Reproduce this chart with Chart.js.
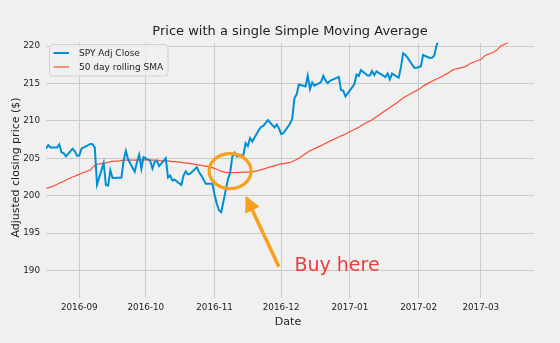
<!DOCTYPE html>
<html><head><meta charset="utf-8">
<script src="https://cdn.jsdelivr.net/npm/chart.js@4.4.1/dist/chart.umd.min.js"></script>
<style>html,body{margin:0;padding:0;background:#f0f0f0;overflow:hidden}</style>
</head><body>
<canvas id="c" width="560" height="343" style="display:block;width:560px;height:343px"></canvas>
<script>
// ---------------- data ----------------
const tradingDates = [
'2016-08-17','2016-08-18','2016-08-19','2016-08-22','2016-08-23','2016-08-24','2016-08-25','2016-08-26','2016-08-29','2016-08-30','2016-08-31',
'2016-09-01','2016-09-02','2016-09-06','2016-09-07','2016-09-08','2016-09-09','2016-09-12','2016-09-13','2016-09-14','2016-09-15','2016-09-16','2016-09-19','2016-09-20','2016-09-21','2016-09-22','2016-09-23','2016-09-26','2016-09-27','2016-09-28','2016-09-29','2016-09-30',
'2016-10-03','2016-10-04','2016-10-05','2016-10-06','2016-10-07','2016-10-10','2016-10-11','2016-10-12','2016-10-13','2016-10-14','2016-10-17','2016-10-18','2016-10-19','2016-10-20','2016-10-21','2016-10-24','2016-10-25','2016-10-26','2016-10-27','2016-10-28','2016-10-31',
'2016-11-01','2016-11-02','2016-11-03','2016-11-04','2016-11-07','2016-11-08','2016-11-09','2016-11-10','2016-11-11','2016-11-14','2016-11-15','2016-11-16','2016-11-17','2016-11-18','2016-11-21','2016-11-22','2016-11-23','2016-11-25','2016-11-28','2016-11-29','2016-11-30',
'2016-12-01','2016-12-02','2016-12-05','2016-12-06','2016-12-07','2016-12-08','2016-12-09','2016-12-12','2016-12-13','2016-12-14','2016-12-15','2016-12-16','2016-12-19','2016-12-20','2016-12-21','2016-12-22','2016-12-23','2016-12-27','2016-12-28','2016-12-29','2016-12-30',
'2017-01-03','2017-01-04','2017-01-05','2017-01-06','2017-01-09','2017-01-10','2017-01-11','2017-01-12','2017-01-13','2017-01-17','2017-01-18','2017-01-19','2017-01-20','2017-01-23','2017-01-24','2017-01-25','2017-01-26','2017-01-27','2017-01-30','2017-01-31',
'2017-02-01','2017-02-02','2017-02-03','2017-02-06','2017-02-07','2017-02-08','2017-02-09','2017-02-10','2017-02-13','2017-02-14','2017-02-15','2017-02-16','2017-02-17','2017-02-21','2017-02-22','2017-02-23','2017-02-24','2017-02-27','2017-02-28',
'2017-03-01','2017-03-02','2017-03-03','2017-03-06','2017-03-07','2017-03-08','2017-03-09','2017-03-10','2017-03-13','2017-03-14','2017-03-15'
];

const spyAdjClose = [
206.30,206.76,206.45,206.45,206.86,205.80,205.66,205.27,206.29,205.94,205.36,
205.37,206.30,206.92,206.90,206.43,201.49,204.38,201.44,201.36,203.40,202.38,202.42,202.43,204.71,206.00,204.87,203.21,204.47,205.48,203.62,205.16,
204.67,203.62,204.53,204.67,203.97,205.03,202.44,202.70,202.04,202.14,201.44,202.70,203.25,202.87,202.96,203.82,203.14,202.73,202.19,201.59,201.60,
200.14,198.94,198.03,197.81,202.17,203.08,205.23,205.75,205.27,205.44,207.04,206.65,207.71,207.25,208.81,209.22,209.33,210.11,209.13,209.53,209.03,
208.26,208.37,209.62,210.28,213.03,213.55,214.85,214.60,216.03,214.25,215.13,214.71,215.18,216.01,215.41,215.04,215.35,215.88,214.10,214.05,213.27,
214.90,216.18,216.01,216.78,216.06,216.06,216.67,216.13,216.63,215.86,216.34,215.54,216.33,215.77,217.15,219.03,218.80,218.46,217.10,217.09,
217.17,217.31,218.81,218.42,218.43,218.72,220.01,220.88,222.97
];

const sma50 = [
201.00,201.05,201.15,201.50,201.70,201.80,201.95,202.10,202.50,202.60,202.75,
202.85,203.00,203.45,203.80,204.05,204.20,204.35,204.40,204.45,204.55,204.60,204.65,204.70,204.75,204.75,204.75,204.75,204.75,204.75,204.80,204.80,
204.80,204.75,204.75,204.75,204.70,204.65,204.65,204.60,204.55,204.55,204.45,204.40,204.40,204.35,204.30,204.15,204.10,204.05,204.00,203.95,203.75,
203.65,203.55,203.40,203.25,203.10,203.10,203.10,203.10,203.10,203.15,203.15,203.15,203.20,203.20,203.40,203.50,203.55,203.75,204.00,204.10,204.20,
204.25,204.30,204.45,204.55,204.70,204.85,205.00,205.60,205.80,206.00,206.15,206.30,206.70,206.85,207.00,207.15,207.30,207.85,208.00,208.10,208.25,
208.85,209.00,209.15,209.35,209.85,210.00,210.15,210.35,210.55,211.40,211.60,211.80,212.00,212.60,212.85,213.05,213.25,213.40,213.90,214.05,
214.20,214.40,214.65,215.15,215.30,215.45,215.60,215.70,216.20,216.35,216.55,216.75,216.90,217.15,217.25,217.40,217.65,218.00,218.10,
218.20,218.45,218.75,219.10,219.20,219.40,219.70,220.00,220.40,220.60,220.80
];

const seriesNames = ['SPY Adj Close', '50 day rolling SMA'];
const monthTickLabels = ['2016-09','2016-10','2016-11','2016-12','2017-01','2017-02','2017-03'];
const yTickValues = [190,195,200,205,210,215,220];
const titleText = 'Price with a single Simple Moving Average';
const xAxisLabel = 'Date';
const yAxisLabel = 'Adjusted closing price ($)';
const noteText = 'Buy here';

// ---------------- helpers ----------------
const xStart = '2016-08-17', xEnd = '2017-03-25';
const dayOf = s => (Date.parse(s) - Date.parse(xStart)) / 864e5;

const blueData = spyAdjClose.map((v, i) => ({x: dayOf(tradingDates[i]), y: v}));
const redData = sma50.map((v, i) => ({x: dayOf(tradingDates[i]), y: v}));

const FONT = "'DejaVu Sans', sans-serif";
const BLUE = '#008fd5', RED = '#fc4f30', ORANGE = '#f7a01c';

// annotation anchors (data coordinates)
const note = {
  circle: {date: '2016-11-08', value: 203.3, rx: 21, ry: 17.5},
  tip: {date: '2016-11-15', value: 200.0},
  tail: {date: '2016-11-30', value: 190.5},
  text: {date: '2016-12-07', value: 189.9}
};

const bgPlugin = {
  id: 'bg',
  beforeDraw(chart) {
    const c = chart.ctx;
    c.save(); c.fillStyle = '#f0f0f0'; c.fillRect(0, 0, chart.width, chart.height); c.restore();
  }
};

const textPlugin = {
  id: 'texts',
  afterDraw(chart) {
    const c = chart.ctx, a = chart.chartArea;
    c.save();
    c.fillStyle = '#222';
    c.textAlign = 'center';
    c.textBaseline = 'alphabetic';
    c.font = '13px ' + FONT;
    c.fillText(titleText, (a.left + a.right) / 2, 35);
    c.font = '11px ' + FONT;
    c.fillText(xAxisLabel, (a.left + a.right) / 2 - 2, 325);
    c.translate(18.5, (a.top + a.bottom) / 2 - 3);
    c.rotate(-Math.PI / 2);
    c.fillText(yAxisLabel, 0, 0);
    c.restore();
  }
};

const legendPlugin = {
  id: 'legendBox',
  afterDatasetsDraw(chart) {
    const c = chart.ctx;
    const x = 49.5, y = 44.5, w = 118.5, h = 31.5, r = 3;
    c.save();
    c.beginPath();
    c.roundRect(x, y, w, h, r);
    c.fillStyle = 'rgba(240,240,240,0.85)';
    c.fill();
    c.strokeStyle = '#d0d0d0';
    c.lineWidth = 1;
    c.stroke();
    chart.data.datasets.forEach((ds, i) => {
      const ry = 53 + i * 14;
      c.beginPath();
      c.moveTo(53.5, ry); c.lineTo(69, ry);
      c.strokeStyle = ds.borderColor;
      c.lineWidth = ds.borderWidth;
      c.stroke();
      c.fillStyle = '#222';
      c.font = '9px ' + FONT;
      c.textAlign = 'left';
      c.textBaseline = 'middle';
      c.fillText(ds.label, 79, ry + 0.5);
    });
    c.restore();
  }
};

const notePlugin = {
  id: 'note',
  afterDatasetsDraw(chart) {
    const c = chart.ctx, xs = chart.scales.x, ys = chart.scales.y;
    const px = p => [xs.getPixelForValue(dayOf(p.date)), ys.getPixelForValue(p.value)];
    c.save();
    // ellipse
    const [cx, cy] = px(note.circle);
    c.beginPath();
    c.ellipse(cx, cy, note.circle.rx, note.circle.ry, 0, 0, Math.PI * 2);
    c.strokeStyle = ORANGE; c.lineWidth = 3.2; c.stroke();
    // arrow
    const [tx, ty] = px(note.tip), [sx, sy] = px(note.tail);
    const dx = tx - sx, dy = ty - sy, L = Math.hypot(dx, dy);
    const ux = dx / L, uy = dy / L, nx = -uy, ny = ux;
    const hl = 16, hw = 8;
    const bx = tx - ux * hl, by = ty - uy * hl;
    c.beginPath();
    c.moveTo(sx, sy); c.lineTo(bx + ux * 2, by + uy * 2);
    c.strokeStyle = ORANGE; c.lineWidth = 3.5; c.lineCap = 'butt'; c.stroke();
    c.beginPath();
    c.moveTo(tx, ty);
    c.lineTo(bx + nx * hw, by + ny * hw);
    c.lineTo(bx - nx * hw, by - ny * hw);
    c.closePath();
    c.fillStyle = ORANGE; c.fill();
    // text
    const [qx, qy] = px(note.text);
    c.fillStyle = '#f03c3c';
    c.font = '19px ' + FONT;
    c.textAlign = 'left'; c.textBaseline = 'alphabetic';
    c.fillText(noteText, qx, qy);
    c.restore();
  }
};

new Chart(document.getElementById('c'), {
  type: 'line',
  data: {
    datasets: [
      {label: seriesNames[0], data: blueData, borderColor: BLUE, borderWidth: 2, pointRadius: 0, tension: 0, clip: 0, fill: false},
      {label: seriesNames[1], data: redData, borderColor: RED, borderWidth: 1.2, pointRadius: 0, tension: 0, clip: 0, fill: false}
    ]
  },
  options: {
    responsive: false,
    animation: false,
    devicePixelRatio: 1,
    layout: {padding: {top: 42.7, right: 26, bottom: 0, left: 0}},
    plugins: {legend: {display: false}, title: {display: false}, tooltip: {enabled: false}},
    scales: {
      x: {
        type: 'linear', min: 0, max: dayOf(xEnd),
        afterBuildTicks: s => { s.ticks = monthTickLabels.map(m => ({value: dayOf(m + '-01')})); },
        afterFit: s => { s.height = 44.7; },
        ticks: {callback: (v, i) => monthTickLabels[i], autoSkip: false, maxRotation: 0, padding: 4, color: '#222', font: {family: FONT, size: 8.8}},
        grid: {color: '#cbcbcb', lineWidth: 1, drawTicks: false},
        border: {display: false}
      },
      y: {
        min: 186.3, max: 220.45,
        afterBuildTicks: s => { s.ticks = yTickValues.map(v => ({value: v})); },
        afterFit: s => { s.width = 46; },
        ticks: {padding: 6, color: '#222', font: {family: FONT, size: 8.8}},
        grid: {color: '#cbcbcb', lineWidth: 1, drawTicks: false},
        border: {display: false}
      }
    }
  },
  plugins: [bgPlugin, notePlugin, legendPlugin, textPlugin]
});
</script>
</body></html>
